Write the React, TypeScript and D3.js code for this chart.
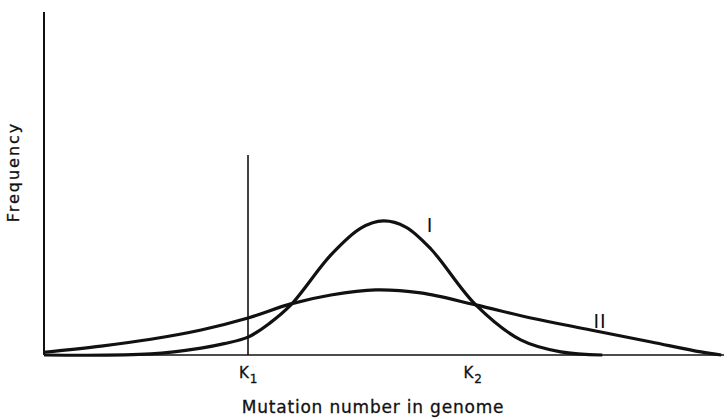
import React, { useEffect, useRef } from 'react';
import * as d3 from 'd3';

// mutation number (0-100 across the axis) and frequency (0-100 up the axis)
const curveIX = [0, 15.7, 23.1, 26.5, 30.0, 33.2, 36.3, 42.2, 46.6, 49.9, 53.2, 56.9, 63.5, 70.1, 76.0, 82.1];
const curveIY = [0, 0.3, 2.0, 3.3, 5.2, 9.3, 14.6, 29.2, 37.0, 39.1, 37.3, 30.9, 14.6, 4.4, 0.9, 0];
const curveIIX = [0, 8.4, 15.7, 23.1, 30.0, 36.3, 42.2, 48.8, 55.4, 63.5, 71.6, 80.4, 89.3, 96.6, 99.6];
const curveIIY = [0.8, 2.6, 4.6, 7.3, 10.8, 14.9, 17.5, 19.0, 18.1, 14.6, 10.8, 7.3, 3.8, 0.9, 0];
const k1 = 30;
const k1Top = 58.3;
const k2 = 63;
const curveLabels = [
  { text: 'I', x: 56.3, y: 35.8 },
  { text: 'II', x: 80.8, y: 7.8 },
];

const App = () => {
  const svgRef = useRef<SVGSVGElement>(null);

  useEffect(() => {
    const svg = d3.select(svgRef.current);
    svg.selectAll('*').remove();

    const width = 727;
    const height = 419;
    svg.attr('width', width).attr('height', height);

    const x = d3.scaleLinear().domain([0, 100]).range([44, 724]);
    const y = d3.scaleLinear().domain([0, 100]).range([355, 12]);
    const font = '"DejaVu Sans", Arial, sans-serif';

    // axes
    svg.append('line')
      .attr('x1', x(0)).attr('x2', x(0))
      .attr('y1', y(100)).attr('y2', y(0))
      .attr('stroke', '#111').attr('stroke-width', 2);
    svg.append('line')
      .attr('x1', x(0)).attr('x2', x(100))
      .attr('y1', y(0)).attr('y2', y(0))
      .attr('stroke', '#111').attr('stroke-width', 1.6);

    // K1 threshold
    svg.append('line')
      .attr('x1', x(k1)).attr('x2', x(k1))
      .attr('y1', y(k1Top)).attr('y2', y(0))
      .attr('stroke', '#111').attr('stroke-width', 1.6);

    const line = d3.line<[number, number]>()
      .x(d => x(d[0]))
      .y(d => y(d[1]))
      .curve(d3.curveCatmullRom.alpha(0.5));

    const series = [
      curveIX.map((v, i) => [v, curveIY[i]] as [number, number]),
      curveIIX.map((v, i) => [v, curveIIY[i]] as [number, number]),
    ];
    svg.selectAll('.curve')
      .data(series)
      .enter()
      .append('path')
      .attr('class', 'curve')
      .attr('d', d => line(d))
      .attr('fill', 'none')
      .attr('stroke', '#111')
      .attr('stroke-width', 3.2);

    svg.selectAll('.clabel')
      .data(curveLabels)
      .enter()
      .append('text')
      .attr('class', 'clabel')
      .attr('x', d => x(d.x))
      .attr('y', d => y(d.y))
      .attr('font-family', font)
      .attr('font-size', 19)
      .attr('letter-spacing', 1)
      .attr('fill', '#111')
      .text(d => d.text);

    // K tick labels
    [[k1, '1'], [k2, '2']].forEach(([v, sub]) => {
      const t = svg.append('text')
        .attr('x', x(v as number) - 9)
        .attr('y', 378)
        .attr('font-family', font)
        .attr('font-size', 15)
        .attr('fill', '#111')
        .attr('stroke', '#111')
        .attr('stroke-width', 0.3);
      t.append('tspan').text('K');
      t.append('tspan').attr('dy', 5).attr('dx', 1).attr('font-size', 12).text(sub as string);
    });

    svg.append('text')
      .attr('x', 373)
      .attr('y', 413)
      .attr('text-anchor', 'middle')
      .attr('font-family', font)
      .attr('font-size', 17)
      .attr('letter-spacing', 0.8)
      .attr('fill', '#111')
      .attr('stroke', '#111')
      .attr('stroke-width', 0.3)
      .text('Mutation number in genome');

    svg.append('text')
      .attr('transform', 'translate(19,172) rotate(-90)')
      .attr('text-anchor', 'middle')
      .attr('font-family', font)
      .attr('font-size', 16)
      .attr('letter-spacing', 2)
      .attr('fill', '#111')
      .attr('stroke', '#111')
      .attr('stroke-width', 0.3)
      .text('Frequency');
  }, []);

  return (
    <div style={{ position: 'absolute', left: 0, top: 0 }}>
      <svg ref={svgRef} style={{ display: 'block' }}></svg>
    </div>
  );
};

export default App;
